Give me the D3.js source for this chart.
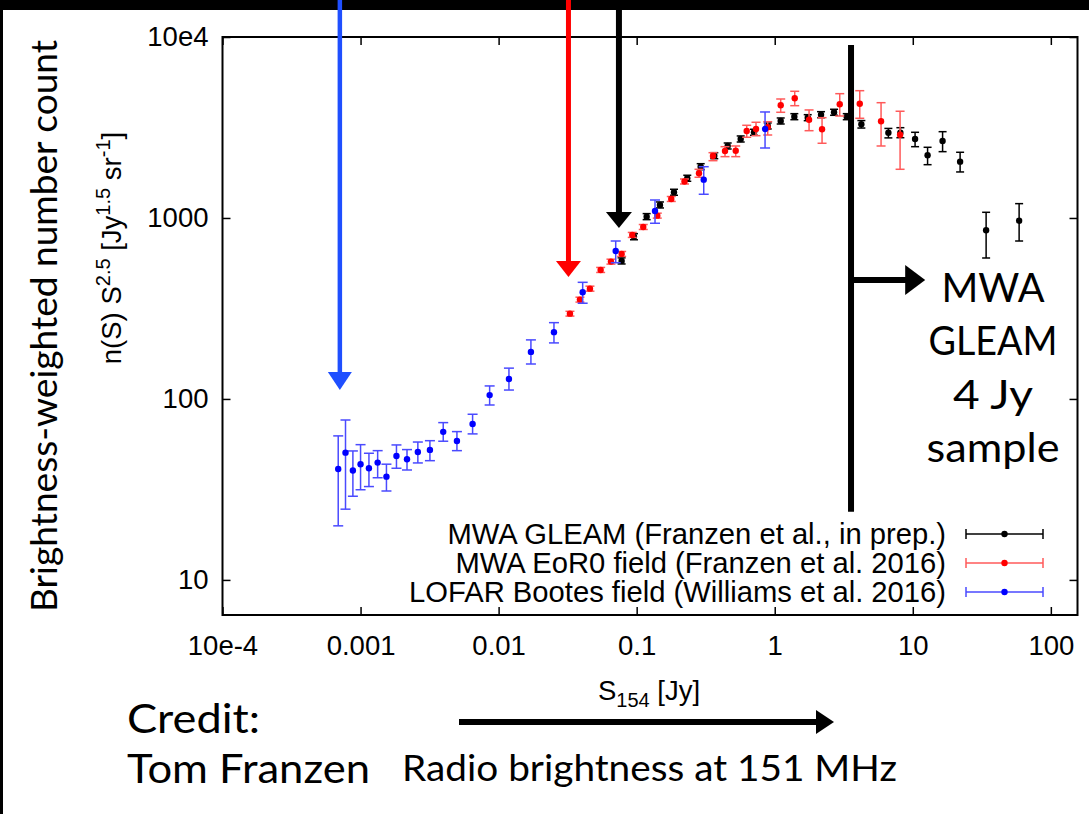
<!DOCTYPE html>
<html><head><meta charset="utf-8">
<script src="https://cdn.jsdelivr.net/npm/d3@7"></script>
<style>body{margin:0;background:#fff}svg{display:block}</style>
</head><body>
<svg id="c" width="1089" height="814"></svg>
<script>
// ---- tick labels ----
const xTickValues = [1e-4, 1e-3, 1e-2, 1e-1, 1, 10, 100];
const xTickLabels = ["10e-4", "0.001", "0.01", "0.1", "1", "10", "100"];
const yTickValues = [10, 100, 1000, 1e4];
const yTickLabels = ["10", "100", "1000", "10e4"];

// ---- series ----
const seriesNames = [
  "MWA GLEAM (Franzen et al., in prep.)",
  "MWA EoR0 field (Franzen et al. 2016)",
  "LOFAR Bootes field (Williams et al. 2016)"
];

// MWA GLEAM
const gleamS  = [0.0778, 0.0956, 0.1181, 0.1475, 0.1863, 0.2326, 0.2909, 0.365, 0.4563, 0.567, 0.7079, 0.8898, 1.105, 1.387, 1.734, 2.165, 2.690, 3.325, 4.242, 6.657, 8.131, 10.39, 12.80, 16.44, 22.02, 33.98, 58.92];
const gleamV  = [579, 788, 1017, 1180, 1387, 1657, 1920, 2209, 2499, 2732, 2975, 3224, 3435, 3628, 3582, 3722, 3837, 3628, 3293, 2960, 2960, 2732, 2220, 2663, 2047, 855, 966];
const gleamLo = [557, 758, 979, 1136, 1335, 1595, 1848, 2126, 2405, 2629, 2863, 3103, 3306, 3492, 3448, 3582, 3693, 3492, 3140, 2770, 2777, 2477, 1970, 2325, 1796, 601, 746];
const gleamHi = [602, 819, 1057, 1226, 1441, 1722, 1995, 2295, 2596, 2839, 3091, 3350, 3569, 3770, 3722, 3867, 3987, 3770, 3453, 3125, 3154, 2975, 2458, 2998, 2307, 1075, 1200];

// MWA EoR0
const eorS  = [0.03286, 0.03882, 0.04587, 0.05484, 0.06513, 0.07784, 0.09293, 0.1116, 0.1410, 0.1781, 0.2220, 0.2828, 0.3571, 0.4364, 0.5218, 0.6268, 0.7319, 0.8898, 1.105, 1.396, 1.773, 2.202, 2.958, 4.130, 5.892, 8.091];
const eorV  = [296, 354, 407, 516, 574, 633, 806, 892, 1030, 1274, 1591, 1766, 2200, 2345, 2354, 3025, 3102, 3170, 4195, 4585, 3492, 3091, 4248, 4280, 3422, 2885];
const eorLo = [287, 343, 394, 500, 556, 613, 781, 864, 998, 1234, 1541, 1679, 2073, 2182, 2182, 2792, 2849, 2874, 3837, 4173, 3036, 2587, 3660, 3555, 2499, 1858];
const eorHi = [305, 365, 420, 533, 592, 653, 832, 920, 1063, 1314, 1642, 1858, 2295, 2477, 2499, 3252, 3379, 3404, 4544, 5012, 3953, 3582, 4862, 5050, 4335, 3888];

// LOFAR Bootes
const lofarS  = [6.89e-4, 7.78e-4, 8.80e-4, 1.0e-3, 1.15e-3, 1.33e-3, 1.54e-3, 1.82e-3, 2.17e-3, 2.60e-3, 3.18e-3, 3.97e-3, 4.99e-3, 6.48e-3, 8.61e-3, 0.01188, 0.01714, 0.02517, 0.04063, 0.0705, 0.1358, 0.306, 0.851];
const lofarV  = [41.0, 50.5, 40.2, 43.6, 41.4, 44.5, 37.2, 48.4, 46.4, 50.9, 52.3, 65.8, 58.6, 72.7, 105, 129, 182, 234, 389, 657, 1093, 1628, 3102];
const lofarLo = [19.9, 24.6, 29.0, 31.5, 32.8, 36.7, 31.0, 41.4, 40.5, 44.3, 45.6, 58.4, 51.8, 64.1, 92.6, 112, 156, 204, 338, 566, 935, 1352, 2436];
const lofarHi = [62.5, 76.5, 51.6, 55.9, 50.1, 51.8, 43.6, 55.7, 52.5, 57.8, 58.8, 74.0, 66.0, 82.3, 118, 148, 212, 264, 441, 746, 1257, 1920, 3852];

// annotation values (data space)
const arrowS   = [7.08e-4, 0.03206, 0.0744];   // down arrows: blue, red, black
const arrowTip = [112, 472, 881];
const sampleCutS = 3.57;                        // vertical bar (GLEAM 4 Jy sample)
const sampleBarV = [9036, 23.8];
const sampleArrowV = 454;
const sampleArrowTipS = 12.3;
const sampleLines = ["MWA", "GLEAM", "4 Jy", "sample"];

// ---- layout ----
const svg = d3.select("#c");
const L = 222.5, R = 1077.5, T = 37, B = 615;
const x = d3.scaleLog().domain([1e-4, 156]).range([L, R]);
const y = d3.scaleLog().domain([6.4, 1e4]).range([B, T]);
const AX = "'Liberation Sans', Arial, Helvetica, sans-serif";
const HUM = "Lato, 'Open Sans', sans-serif";
const FS = 27.5;

svg.append("rect").attr("width", 1089).attr("height", 814).attr("fill", "#fff");

// axes
function styleAxis(g) {
  g.select(".domain").remove();
  g.selectAll(".tick line").attr("stroke", "#000").attr("stroke-width", 1.5);
  g.selectAll("text").attr("font-family", AX).attr("font-size", FS).attr("fill", "#000");
}
svg.append("g").attr("transform", `translate(0,${B})`)
  .call(d3.axisBottom(x).tickValues(xTickValues).tickFormat((d, i) => xTickLabels[i]).tickSize(-8).tickPadding(20))
  .call(styleAxis);
svg.append("g").attr("transform", `translate(0,${T})`)
  .call(d3.axisTop(x).tickValues(xTickValues).tickFormat("").tickSize(-8))
  .call(styleAxis);
svg.append("g").attr("transform", `translate(${L},0)`)
  .call(d3.axisLeft(y).tickValues(yTickValues).tickFormat((d, i) => yTickLabels[i]).tickSize(-8).tickPadding(14))
  .call(styleAxis);
svg.append("g").attr("transform", `translate(${R},0)`)
  .call(d3.axisRight(y).tickValues(yTickValues).tickFormat("").tickSize(-8))
  .call(styleAxis);
svg.append("rect").attr("x", L).attr("y", T).attr("width", R - L).attr("height", B - T)
  .attr("fill", "none").attr("stroke", "#000").attr("stroke-width", 2);

// series drawing
const series = [
  {S: gleamS, V: gleamV, lo: gleamLo, hi: gleamHi, dot: "#000000", bar: "#000000", cap: 4},
  {S: eorS, V: eorV, lo: eorLo, hi: eorHi, dot: "#ff0000", bar: "#ff5a5a", cap: 4.5},
  {S: lofarS, V: lofarV, lo: lofarLo, hi: lofarHi, dot: "#0000ff", bar: "#4a4aff", cap: 5}
];
const plot = svg.append("g");
series.forEach(s => {
  const g = plot.append("g");
  const pts = s.S.map((v, i) => ({s: v, v: s.V[i], lo: s.lo[i], hi: s.hi[i]}));
  const eb = g.selectAll("g.eb").data(pts).join("g").attr("stroke", s.bar).attr("stroke-width", 1.5);
  eb.append("line").attr("x1", d => x(d.s)).attr("x2", d => x(d.s)).attr("y1", d => y(d.lo)).attr("y2", d => y(d.hi));
  eb.append("line").attr("x1", d => x(d.s) - s.cap).attr("x2", d => x(d.s) + s.cap).attr("y1", d => y(d.lo)).attr("y2", d => y(d.lo));
  eb.append("line").attr("x1", d => x(d.s) - s.cap).attr("x2", d => x(d.s) + s.cap).attr("y1", d => y(d.hi)).attr("y2", d => y(d.hi));
  g.selectAll("circle").data(pts).join("circle")
    .attr("cx", d => x(d.s)).attr("cy", d => y(d.v)).attr("r", 3.2).attr("fill", s.dot);
});

// legend
const legRows = [534, 563, 592];
series.forEach((s, i) => {
  const yy = legRows[i];
  svg.append("text").attr("x", 946).attr("y", yy + 10).attr("text-anchor", "end")
    .attr("font-family", AX).attr("font-size", 29.2).text(seriesNames[i]);
  const g = svg.append("g").attr("stroke", s.bar).attr("stroke-width", 1.5);
  g.append("line").attr("x1", 966).attr("x2", 1043).attr("y1", yy).attr("y2", yy);
  g.append("line").attr("x1", 966).attr("x2", 966).attr("y1", yy - 5).attr("y2", yy + 5);
  g.append("line").attr("x1", 1043).attr("x2", 1043).attr("y1", yy - 5).attr("y2", yy + 5);
  svg.append("circle").attr("cx", 1004.5).attr("cy", yy).attr("r", 3.2).attr("fill", s.dot);
});

// axis titles
const yl2 = svg.append("text").attr("transform", "translate(121,248) rotate(-90)")
  .attr("text-anchor", "middle").attr("font-family", AX).attr("font-size", FS);
yl2.append("tspan").text("n(S) S");
yl2.append("tspan").attr("font-size", 20).attr("dy", -11).text("2.5");
yl2.append("tspan").attr("dy", 11).text(" [Jy");
yl2.append("tspan").attr("font-size", 20).attr("dy", -11).text("1.5");
yl2.append("tspan").attr("dy", 11).text(" sr");
yl2.append("tspan").attr("font-size", 20).attr("dy", -11).text("-1");
yl2.append("tspan").attr("dy", 11).text("]");

svg.append("text").attr("transform", "translate(57,326) rotate(-90)")
  .attr("text-anchor", "middle").attr("font-family", HUM).attr("font-size", 36)
  .attr("textLength", 572).attr("lengthAdjust", "spacingAndGlyphs")
  .text("Brightness-weighted number count");

const xl = svg.append("text").attr("x", 649).attr("y", 700).attr("text-anchor", "middle")
  .attr("font-family", AX).attr("font-size", FS);
xl.append("tspan").text("S");
xl.append("tspan").attr("font-size", 20).attr("dy", 7).text("154");
xl.append("tspan").attr("dy", -7).text(" [Jy]");

// black frame of the slide
svg.append("rect").attr("x", 0).attr("y", 0).attr("width", 1089).attr("height", 10).attr("fill", "#000");
svg.append("rect").attr("x", 0).attr("y", 0).attr("width", 3).attr("height", 814).attr("fill", "#000");

// down arrows
const arrowColors = ["#1f4fff", "#ff0000", "#000000"];
const arrowW = [4.5, 5, 6], headL = [18, 16, 16], headW = [24, 25, 26];
arrowS.forEach((s, i) => {
  const ax = x(s), tip = y(arrowTip[i]);
  svg.append("line").attr("x1", ax).attr("x2", ax).attr("y1", 0).attr("y2", tip - headL[i] + 1)
    .attr("stroke", arrowColors[i]).attr("stroke-width", arrowW[i]);
  svg.append("path").attr("d", `M${ax - headW[i] / 2},${tip - headL[i]}L${ax + headW[i] / 2},${tip - headL[i]}L${ax},${tip}Z`)
    .attr("fill", arrowColors[i]);
});

// GLEAM 4 Jy sample bar and arrow
const cx = x(sampleCutS);
svg.append("line").attr("x1", cx).attr("x2", cx).attr("y1", y(sampleBarV[0])).attr("y2", y(sampleBarV[1]))
  .attr("stroke", "#000").attr("stroke-width", 6);
const ay = y(sampleArrowV), atip = x(sampleArrowTipS);
svg.append("line").attr("x1", cx).attr("x2", atip - 18).attr("y1", ay).attr("y2", ay)
  .attr("stroke", "#000").attr("stroke-width", 6);
svg.append("path").attr("d", `M${atip - 20},${ay - 15}L${atip},${ay}L${atip - 20},${ay + 15}Z`).attr("fill", "#000");

const mwaW = [103, 129, 80, 133];
const mwaY = [302, 355, 409, 462];
sampleLines.forEach((t, i) => {
  svg.append("text").attr("x", 993).attr("y", mwaY[i]).attr("text-anchor", "middle")
    .attr("font-family", HUM).attr("font-size", 40)
    .attr("textLength", mwaW[i]).attr("lengthAdjust", "spacingAndGlyphs").text(t);
});

// credit & bottom arrow
svg.append("text").attr("x", 127).attr("y", 733).attr("font-family", HUM).attr("font-size", 41)
  .attr("textLength", 133).attr("lengthAdjust", "spacingAndGlyphs").text("Credit:");
svg.append("text").attr("x", 127).attr("y", 783).attr("font-family", HUM).attr("font-size", 41)
  .attr("textLength", 243).attr("lengthAdjust", "spacingAndGlyphs").text("Tom Franzen");
svg.append("text").attr("x", 402).attr("y", 781).attr("font-family", HUM).attr("font-size", 36)
  .attr("textLength", 495).attr("lengthAdjust", "spacingAndGlyphs").text("Radio brightness at 151 MHz");
svg.append("line").attr("x1", 459).attr("x2", 818).attr("y1", 722).attr("y2", 722).attr("stroke", "#000").attr("stroke-width", 6);
svg.append("path").attr("d", "M816,710L834,722L816,734Z").attr("fill", "#000");
</script>
</body></html>
